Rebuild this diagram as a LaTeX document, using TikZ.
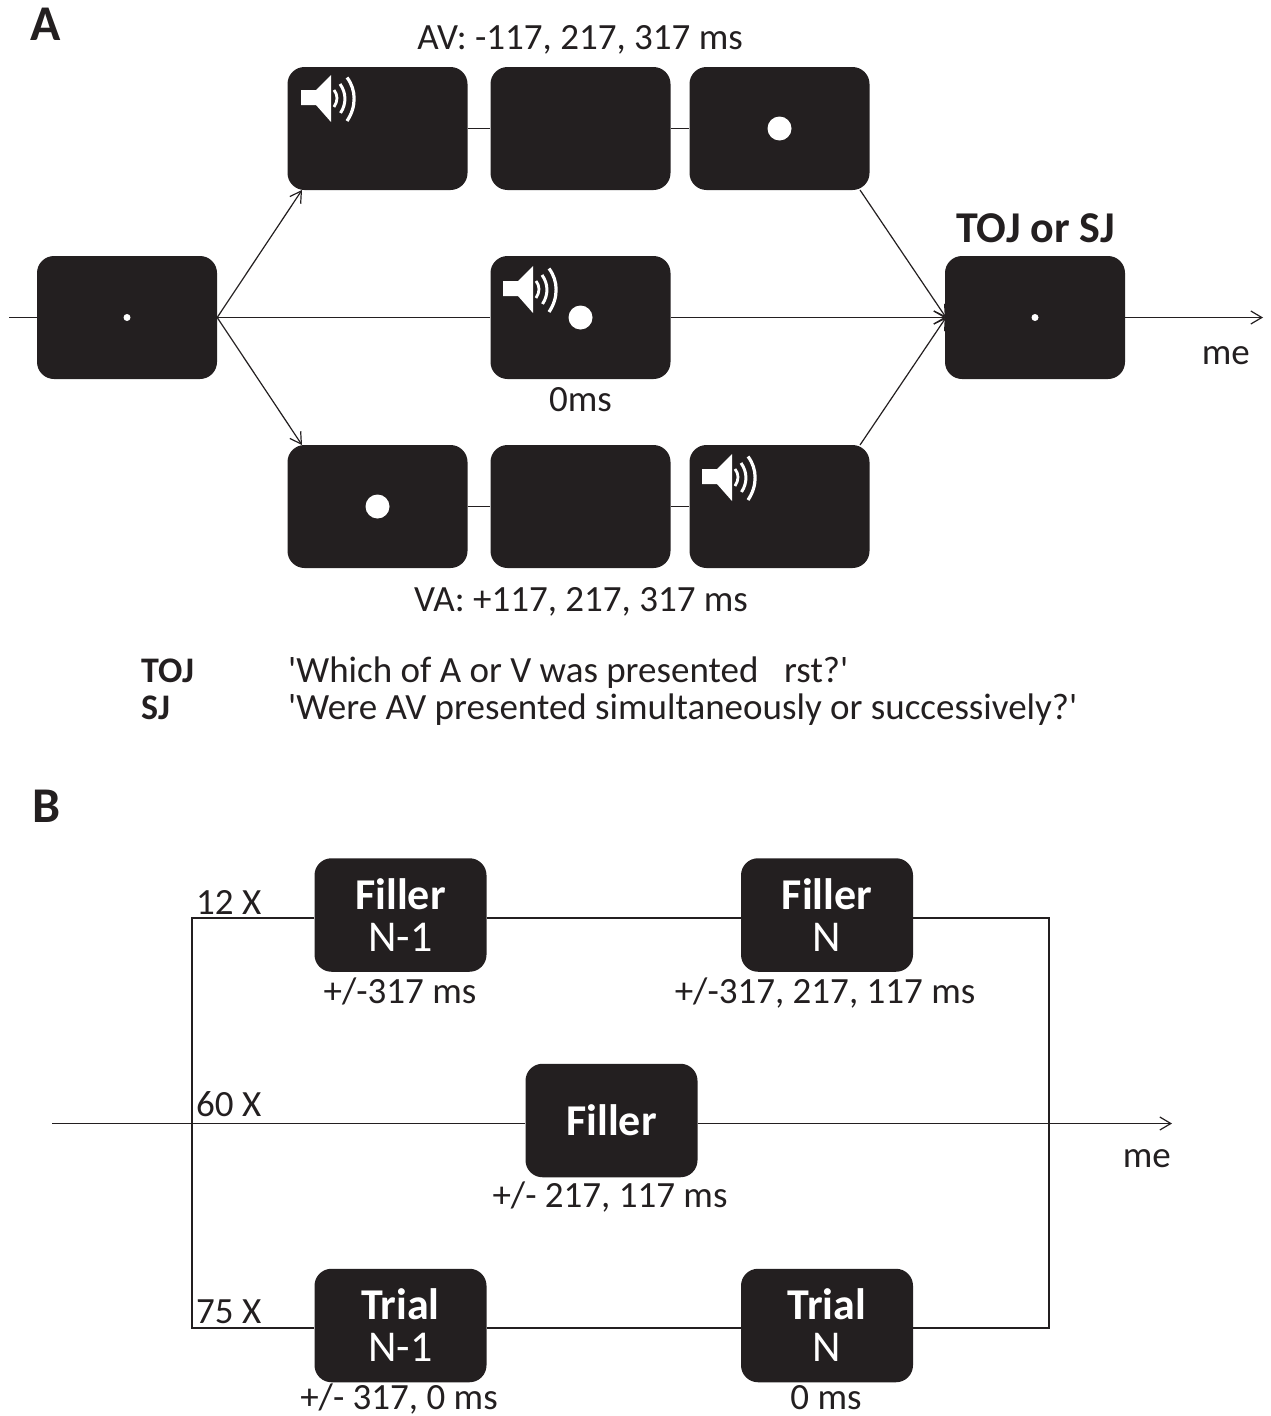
\documentclass[tikz,border=0pt]{standalone}
\usepackage{fontspec}
\setmainfont{Carlito}[Ligatures=TeXOff]
\usetikzlibrary{arrows.meta}
\definecolor{ink}{HTML}{231F20}
\newcommand{\fsz}[1]{\fontsize{#1}{#1}\selectfont}
\newcommand{\spk}[2]{%
  \begin{scope}[shift={(#1,#2)}]
    \fill[white] (0,-8) -- (15,-8) -- (30,-23) -- (30,24) -- (15,7) -- (0,7) -- cycle;
    \draw[white,line width=2.8pt] (33,-8) .. controls (37,-3) and (37,3) .. (33,9);
    \draw[white,line width=3pt] (39,-14) .. controls (45.5,-5) and (45.5,6) .. (39.5,15);
    \draw[white,line width=3.2pt] (46,-20.5) .. controls (55.5,-8) and (55.5,9) .. (46,23);
  \end{scope}}
\tikzset{
  x=1pt,y=-1pt,
  screen/.style={fill=ink,draw=none,rounded corners=17pt,minimum width=180pt,minimum height=123pt,inner sep=0pt},
  tag/.style={fill=ink,draw=none,rounded corners=17pt,minimum width=172pt,minimum height=113.5pt,inner sep=0pt,text=white,align=center,font=\fsz{44}},
  conn/.style={draw=ink,line width=1.2pt},
  arr/.style={conn,-{Straight Barb[length=11pt,width=13pt,line width=1.2pt]}},
  lab/.style={text=ink,inner sep=0pt,font=\fsz{37}},
  bigdot/.style={circle,fill=white,draw=none,minimum size=24pt,inner sep=0pt},
  smalldot/.style={circle,fill=white,draw=none,minimum size=7pt,inner sep=0pt},
}
\begin{document}
\begin{tikzpicture}
\useasboundingbox (0,0) rectangle (1270,1416);
% ---- A: connectors first, boxes on top
\coordinate (inA) at (9,317.5);
\coordinate (outA) at (1263,317.5);
\coordinate (tipU) at (302,190);
\coordinate (tipD) at (302,445);
\coordinate (tipR) at (946,317.5);
\coordinate (fromU) at (860,190);
\coordinate (fromD) at (860,445);
\node[screen] (fix) at (127,317.5) {};
\node[screen] (a1) at (377.5,128.5) {};
\node[screen] (a2) at (580.5,128.5) {};
\node[screen] (a3) at (779.5,128.5) {};
\node[screen] (m) at (580.5,317.5) {};
\node[screen] (v1) at (377.5,506.5) {};
\node[screen] (v2) at (580.5,506.5) {};
\node[screen] (v3) at (779.5,506.5) {};
\node[screen] (resp) at (1035,317.5) {};
\draw[conn] (inA) -- (fix.west);
\draw[arr] (fix.east) -- (tipU);
\draw[arr] (fix.east) -- (tipD);
\draw[conn] (fix.east) -- (m.west);
\draw[conn] (a1.east) -- (a2.west);
\draw[conn] (a2.east) -- (a3.west);
\draw[conn] (v1.east) -- (v2.west);
\draw[conn] (v2.east) -- (v3.west);
\draw[arr] (m.east) -- (tipR);
\draw[arr] (fromU) -- (tipR);
\draw[arr] (fromD) -- (tipR);
\draw[arr] (resp.east) -- (outA);
\node[smalldot] (d1) at (fix) {};
\node[smalldot] (d2) at (resp) {};
\node[bigdot] (d3) at (a3) {};
\node[bigdot] (d4) at (m) {};
\node[bigdot] (d5) at (v1) {};
\spk{301}{98}
\spk{503}{289}
\spk{702}{477}
\node[anchor=base west,text=ink,inner sep=0pt,font=\fsz{50}\bfseries] (A) at (30,40) {A};
\node[lab,anchor=base] (l1) at (580,49) {AV: -117, 217, 317 ms};
\node[lab,anchor=base] (l2) at (580.5,411) {0ms};
\node[lab,anchor=base] (l3) at (581,611) {VA: +117, 217, 317 ms};
\node[anchor=base,text=ink,inner sep=0pt,font=\fsz{44}\bfseries] (l4) at (1035.5,242.5) {TOJ or SJ};
\node[lab,anchor=base east] (l5) at (1250,364) {me};
\node[lab,anchor=base west,font=\fsz{36}\bfseries] (t1) at (141,682) {TOJ};
\node[lab,anchor=base west,font=\fsz{36}\bfseries] (t2) at (141,719) {SJ};
\node[lab,anchor=base west] (q1) at (288,682) {'Which of A or V was presented};
\node[lab,anchor=base west] (q1b) at (784,682) {rst?'};
\node[lab,anchor=base west] (q2) at (288,719) {'Were AV presented simultaneously or successively?'};
% ---- B
\node[anchor=base west,text=ink,inner sep=0pt,font=\fsz{50}\bfseries] (B) at (32,822) {B};
\coordinate (inB) at (52,1123.5);
\coordinate (outB) at (1172,1123.5);
\coordinate (cTL) at (192,918);
\coordinate (cBL) at (192,1328);
\coordinate (cTR) at (1049,918);
\coordinate (cBR) at (1049,1328);
\node[tag] (f1) at (400.5,915) {\bfseries Filler\\[-2pt]N-1};
\node[tag] (f2) at (827,915) {\bfseries Filler\\[-2pt]N};
\node[tag] (f3) at (611.5,1120.5) {\bfseries Filler};
\node[tag] (t3) at (400.5,1325.5) {\bfseries Trial\\[-2pt]N-1};
\node[tag] (t4) at (827,1325.5) {\bfseries Trial\\[-2pt]N};
\draw[conn] (f1.east |- cTL) -- (f2.west |- cTL);
\draw[conn] (t3.east |- cBL) -- (t4.west |- cBL);
\draw[conn] (f1.west |- cTL) -- (cTL) -- (cBL) -- (t3.west |- cBL);
\draw[conn] (f2.east |- cTR) -- (cTR) -- (cBR) -- (t4.east |- cBR);
\draw[conn] (inB) -- (f3.west |- inB);
\draw[arr] (f3.east |- outB) -- (outB);
\node[lab,anchor=base west] (n1) at (196,914) {12 X};
\node[lab,anchor=base west] (n2) at (196,1116) {60 X};
\node[lab,anchor=base west] (n3) at (196,1323) {75 X};
\node[lab,anchor=base] (b1) at (400,1003) {+/-317 ms};
\node[lab,anchor=base] (b2) at (825,1003) {+/-317, 217, 117 ms};
\node[lab,anchor=base] (b3) at (610,1207) {+/- 217, 117 ms};
\node[lab,anchor=base] (b4) at (399,1409) {+/- 317, 0 ms};
\node[lab,anchor=base] (b5) at (826,1409) {0 ms};
\node[lab,anchor=base east] (b6) at (1171,1167) {me};
\end{tikzpicture}
\end{document}
